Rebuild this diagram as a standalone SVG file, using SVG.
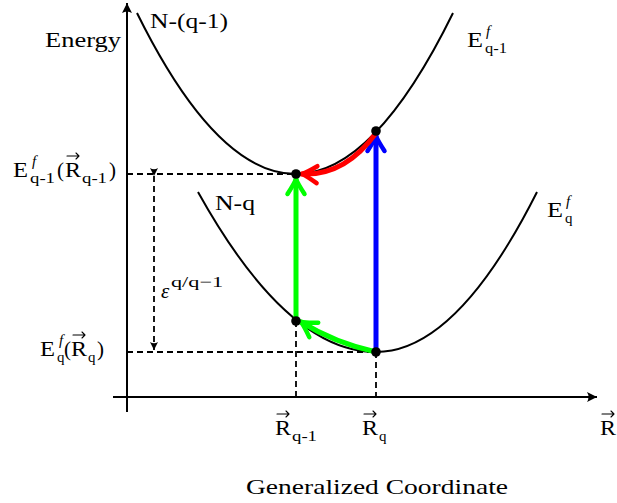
<svg xmlns="http://www.w3.org/2000/svg" width="617" height="503" viewBox="0 0 617 503">
<style>
.t{font-family:"Liberation Serif","Times New Roman",serif;font-size:21px;fill:#000}
.s{font-size:15px}
.i{font-style:italic}
.curve{fill:none;stroke:#000;stroke-width:2}
.axis{fill:none;stroke:#000;stroke-width:2}
.dash{fill:none;stroke:#000;stroke-width:1.8;stroke-dasharray:6 4}
.vec{fill:none;stroke:#000;stroke-width:1.1;stroke-linecap:round;stroke-linejoin:round}
.dot{fill:#000}
.thick{fill:none;stroke-width:5;stroke-linecap:round}
</style>
<defs>
<marker id="hb" markerUnits="userSpaceOnUse" viewBox="-20 -12 24 24" markerWidth="24" markerHeight="24" refX="0" refY="0" orient="auto">
<path d="M-15,-8.5 Q-5,-2 0,0 Q-5,2 -15,8.5" fill="none" stroke="#0000ff" stroke-width="4.5" stroke-linecap="round" stroke-linejoin="round"/>
</marker>
<marker id="hg" markerUnits="userSpaceOnUse" viewBox="-20 -12 24 24" markerWidth="24" markerHeight="24" refX="0" refY="0" orient="auto">
<path d="M-15,-8.5 Q-5,-2 0,0 Q-5,2 -15,8.5" fill="none" stroke="#00ff00" stroke-width="4.5" stroke-linecap="round" stroke-linejoin="round"/>
</marker>
<marker id="hr" markerUnits="userSpaceOnUse" viewBox="-20 -12 24 24" markerWidth="24" markerHeight="24" refX="0" refY="0" orient="auto">
<path d="M-15,-8.5 Q-5,-2 0,0 Q-5,2 -15,8.5" fill="none" stroke="#ff0000" stroke-width="4.5" stroke-linecap="round" stroke-linejoin="round"/>
</marker>
<marker id="ha" markerUnits="userSpaceOnUse" viewBox="-12 -7 14 14" markerWidth="14" markerHeight="14" refX="0" refY="0" orient="auto">
<path d="M0,0 L-10,-5 Q-7,0 -10,5 Z" fill="#000"/>
</marker>
<marker id="hs" markerUnits="userSpaceOnUse" viewBox="-10 -6 12 12" markerWidth="12" markerHeight="12" refX="0" refY="0" orient="auto">
<path d="M0,0 L-8,-4 Q-5.5,0 -8,4 Z" fill="#000"/>
</marker>
</defs>

<g id="axes">
<path class="axis" d="M127,412 V3" marker-end="url(#ha)"/>
<path class="axis" d="M113,397 H597" marker-end="url(#ha)"/>
</g>

<g id="guides">
<path class="dash" d="M127,174 H296"/>
<path class="dash" d="M127,352 H376"/>
<path class="dash" d="M296,321 V397"/>
<path class="dash" d="M376,352 V397"/>
<path class="dash" d="M154,176 V350" marker-start="url(#hs)" marker-end="url(#hs)"/>
</g>

<g id="curve-upper">
<path class="curve" d="M137,13 Q216.5,174 296,174 Q374,174 453,13"/>
</g>
<g id="curve-lower">
<path class="curve" d="M198,192 Q287,352 376,352 Q456.5,352 537,192"/>
</g>

<g id="connectors">
<path class="thick" stroke="#0000ff" d="M376,352 V136" marker-end="url(#hb)"/>
<path class="thick" stroke="#00ff00" d="M296,321 V179" marker-end="url(#hg)"/>
<path class="thick" stroke="#ff0000" d="M376,133 Q345,176 302,174" marker-end="url(#hr)"/>
<path class="thick" stroke="#00ff00" d="M376,352 Q335,343 301,322" marker-end="url(#hg)"/>
</g>

<g id="points">
<circle class="dot" cx="296" cy="174" r="4.8"/>
<circle class="dot" cx="376" cy="131" r="4.8"/>
<circle class="dot" cx="296" cy="321" r="4.8"/>
<circle class="dot" cx="376" cy="352" r="4.8"/>
</g>

<g id="labels">
<text class="t" x="45" y="47" textLength="76" lengthAdjust="spacingAndGlyphs">Energy</text>
<text class="t" x="150" y="28" textLength="78" lengthAdjust="spacingAndGlyphs">N-(q-1)</text>
<text class="t" x="215" y="210" textLength="40" lengthAdjust="spacingAndGlyphs">N-q</text>

<g id="label-Eq1">
<text class="t" x="467" y="47" textLength="16" lengthAdjust="spacingAndGlyphs">E</text>
<text class="t s i" x="486" y="36">f</text>
<text class="t s" x="485" y="53" textLength="22" lengthAdjust="spacingAndGlyphs">q-1</text>
</g>
<g id="label-Eq">
<text class="t" x="547" y="217" textLength="16" lengthAdjust="spacingAndGlyphs">E</text>
<text class="t s i" x="566" y="206">f</text>
<text class="t s" x="565" y="223">q</text>
</g>

<g id="label-left-upper">
<text class="t" x="13" y="177" textLength="15" lengthAdjust="spacingAndGlyphs">E</text>
<text class="t s i" x="32" y="166">f</text>
<text class="t s" x="30" y="183" textLength="25" lengthAdjust="spacingAndGlyphs">q-1</text>
<text class="t" x="57" y="177">(</text>
<text class="t" x="65" y="177" textLength="16" lengthAdjust="spacingAndGlyphs">R</text>
<path class="vec" d="M67,156 H79 M76,153 L79,156 L76,159"/>
<text class="t s" x="82" y="183" textLength="25" lengthAdjust="spacingAndGlyphs">q-1</text>
<text class="t" x="109" y="177">)</text>
</g>

<g id="label-left-lower">
<text class="t" x="40" y="356" textLength="15" lengthAdjust="spacingAndGlyphs">E</text>
<text class="t s i" x="59" y="345">f</text>
<text class="t s" x="57" y="362">q</text>
<text class="t" x="64" y="356">(</text>
<text class="t" x="71" y="356" textLength="16" lengthAdjust="spacingAndGlyphs">R</text>
<path class="vec" d="M73,335 H85 M82,332 L85,335 L82,338"/>
<text class="t s" x="88" y="362">q</text>
<text class="t" x="97" y="356">)</text>
</g>

<g id="label-eps">
<text class="t i" x="161" y="298">ε</text>
<text class="t s" x="171" y="287" textLength="52" lengthAdjust="spacingAndGlyphs">q/q−1</text>
</g>

<g id="label-Rq1">
<text class="t" x="275" y="435" textLength="16" lengthAdjust="spacingAndGlyphs">R</text>
<path class="vec" d="M277,414 H289 M286,411 L289,414 L286,417"/>
<text class="t s" x="292" y="441" textLength="25" lengthAdjust="spacingAndGlyphs">q-1</text>
</g>
<g id="label-Rq">
<text class="t" x="362" y="435" textLength="16" lengthAdjust="spacingAndGlyphs">R</text>
<path class="vec" d="M364,414 H376 M373,411 L376,414 L373,417"/>
<text class="t s" x="379" y="441">q</text>
</g>
<g id="label-R">
<text class="t" x="600" y="435" textLength="16" lengthAdjust="spacingAndGlyphs">R</text>
<path class="vec" d="M602,414 H614 M611,411 L614,414 L611,417"/>
</g>

<text class="t" x="246" y="494" textLength="262" lengthAdjust="spacingAndGlyphs">Generalized Coordinate</text>
</g>
</svg>
